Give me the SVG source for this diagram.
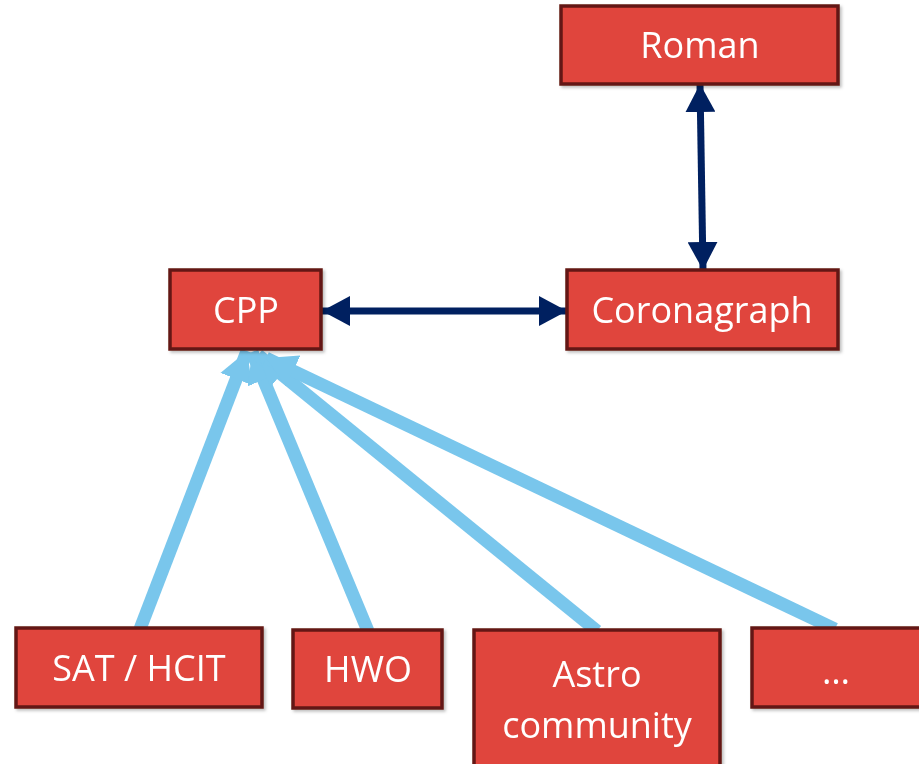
<svg xmlns="http://www.w3.org/2000/svg" width="919" height="764" viewBox="0 0 919 764">
<style>
.box{fill:#e0453c;stroke:#631812;stroke-width:3.5}
.t{font-family:"Open Sans","Liberation Sans",sans-serif;font-size:36px;fill:#ffffff;text-anchor:middle}
.nav{stroke:#002060;stroke-width:7;fill:none}
.blu{stroke:#79c6ec;stroke-width:13;fill:none}
</style>
<defs>
<marker id="nh" markerUnits="userSpaceOnUse" viewBox="0 0 28 30" refX="28" refY="15" markerWidth="28" markerHeight="30" orient="auto-start-reverse">
<path d="M0,0 L28,15 L0,30 Z" fill="#002060"/>
</marker>
<marker id="bh" markerUnits="userSpaceOnUse" viewBox="0 0 30 34" refX="30" refY="17" markerWidth="30" markerHeight="34" orient="auto">
<path d="M0,0 L30,17 L0,34 Z" fill="#79c6ec"/>
</marker>
<filter id="sh" x="-10%" y="-10%" width="130%" height="130%">
<feDropShadow dx="2" dy="2" stdDeviation="1.5" flood-color="#000" flood-opacity="0.25"/>
</filter>
</defs>
<g id="connectors">
<line class="nav" x1="322" y1="311" x2="567" y2="311" marker-start="url(#nh)" marker-end="url(#nh)"/>
<line class="nav" x1="700" y1="84" x2="703" y2="270" marker-start="url(#nh)" marker-end="url(#nh)"/>
<line class="blu" x1="140" y1="629" x2="247" y2="351" marker-end="url(#bh)"/>
<line class="blu" x1="368" y1="631" x2="252" y2="352" marker-end="url(#bh)"/>
<line class="blu" x1="597" y1="631" x2="258" y2="355" marker-end="url(#bh)"/>
<line class="blu" x1="835" y1="629" x2="266" y2="358" marker-end="url(#bh)"/>
</g>
<g id="roman" filter="url(#sh)"><rect class="box" x="561" y="6" width="277" height="78"/><text class="t" x="700" y="58">Roman</text></g>
<g id="cpp" filter="url(#sh)"><rect class="box" x="170" y="270" width="151" height="79"/><text class="t" x="246" y="323">CPP</text></g>
<g id="coronagraph" filter="url(#sh)"><rect class="box" x="567" y="270" width="271" height="79"/><text class="t" x="702" y="323">Coronagraph</text></g>
<g id="sat" filter="url(#sh)"><rect class="box" x="16" y="628" width="246" height="79"/><text class="t" x="139" y="681">SAT / HCIT</text></g>
<g id="hwo" filter="url(#sh)"><rect class="box" x="293" y="630" width="149" height="78"/><text class="t" x="368" y="682">HWO</text></g>
<g id="astro" filter="url(#sh)"><rect class="box" x="474" y="630" width="246" height="140"/><text class="t" x="597" y="687">Astro</text><text class="t" x="597" y="738">community</text></g>
<g id="more" filter="url(#sh)"><rect class="box" x="752" y="628" width="175" height="79"/><text class="t" x="836" y="684">…</text></g>
</svg>
